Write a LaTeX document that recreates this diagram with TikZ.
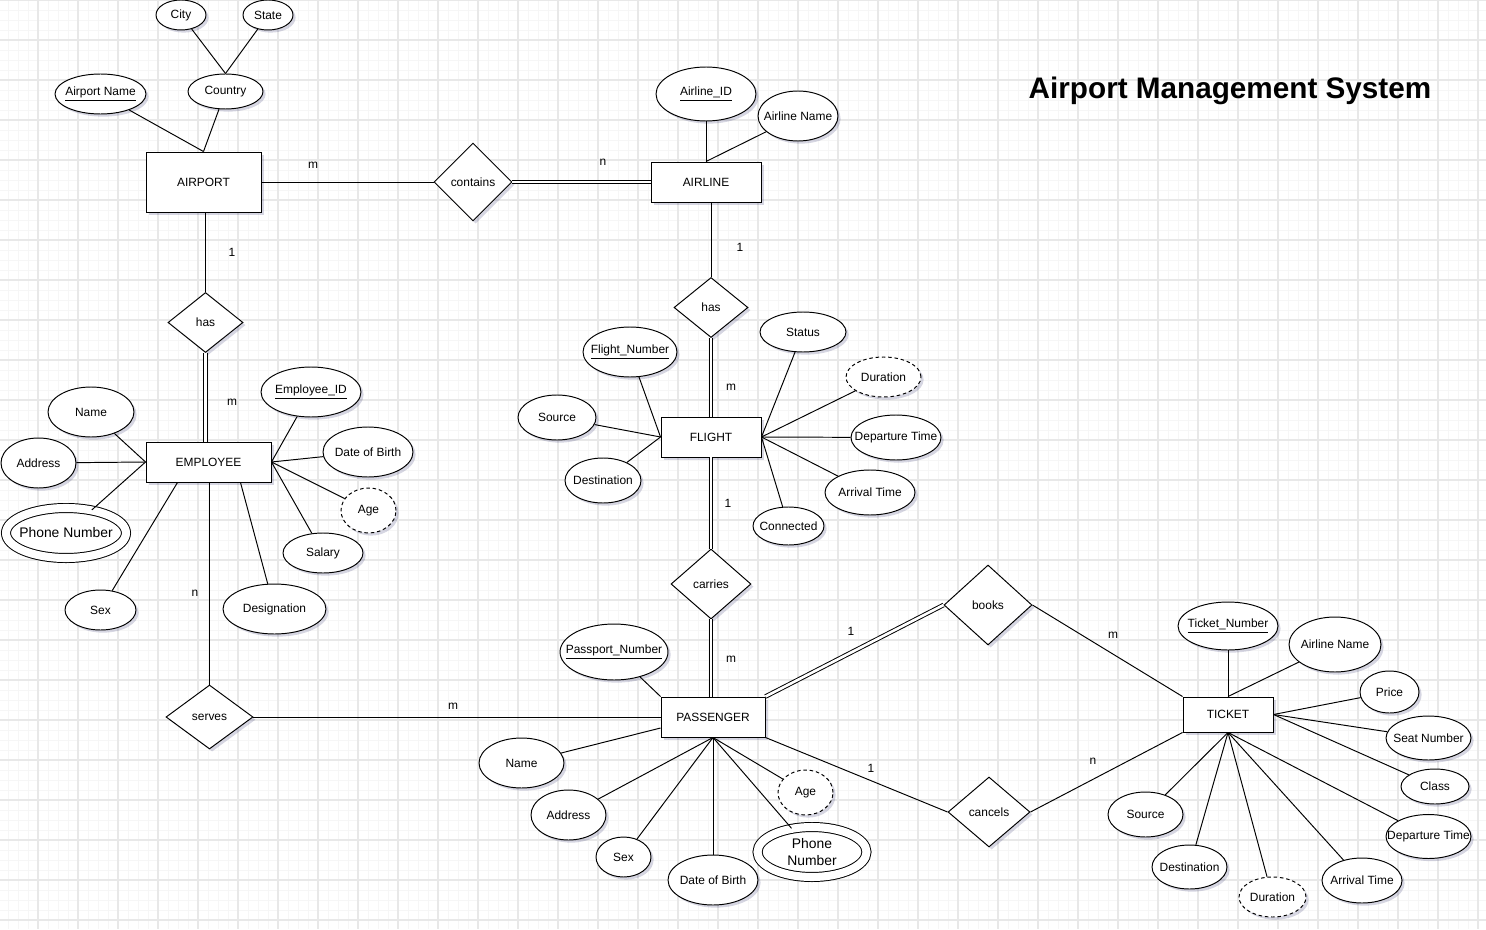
\documentclass[tikz,border=0pt]{standalone}
\usepackage{fontspec}
\setmainfont{Liberation Sans}
\usetikzlibrary{shapes.geometric, shadows}

\tikzset{
    er font/.style={font=\fontsize{6.8}{8.2}\selectfont},
    soft shadow/.style={drop shadow={shadow xshift=1.5pt, shadow yshift=-1.5pt, opacity=0.16, fill=black!70!blue}},
    entity/.style={er font, draw, fill=white, rectangle, inner sep=0pt, soft shadow},
    relation/.style={er font, draw, fill=white, diamond, inner sep=0pt, soft shadow},
    attr/.style={er font, draw, fill=white, ellipse, inner xsep=-30pt, inner ysep=0pt, soft shadow},
    derived/.style={attr, dash pattern=on 2pt off 1.6pt},
    multi/.style={attr, double, double distance=4.6pt, font=\fontsize{7.9}{9.2}\selectfont, align=center},
    total/.style={double, double distance=1.5pt},
    card/.style={er font, inner sep=0pt},
    minor grid/.style={draw=black!3.5, line width=0.5pt},
    major grid/.style={draw=black!9, line width=0.6pt},
}

\begin{document}
\begin{tikzpicture}[x=0.02cm, y=-0.02cm, line width=0.55pt]
    \useasboundingbox (0, 0) rectangle (1486, 929);
    \fill[white] (0, 0) rectangle (1486, 929);

    % background grid
    \foreach \gx in {8,18,...,1478} \draw[minor grid] (\gx, 0) -- (\gx, 929);
    \foreach \gy in {0,10,...,920} \draw[minor grid] (0, \gy) -- (1486, \gy);
    \foreach \gx in {38,78,...,1478} \draw[major grid] (\gx, 0) -- (\gx, 929);
    \foreach \gy in {0,40,...,920} \draw[major grid] (0, \gy) -- (1486, \gy);

    \node[font=\bfseries\fontsize{16.9}{20}\selectfont] (title) at (1230, 91){Airport Management System};

    % entities
    \node[entity, minimum width=2.3cm, minimum height=1.2cm] (airport) at (203.5, 182){AIRPORT};
    \node[entity, minimum width=2.2cm, minimum height=0.8cm] (airline) at (706, 182){AIRLINE};
    \node[entity, minimum width=2.5cm, minimum height=0.8cm] (emp) at (208.5, 462){EMPLOYEE};
    \node[entity, minimum width=2cm, minimum height=0.8cm] (flight) at (711, 437){FLIGHT};
    \node[entity, minimum width=2.08cm, minimum height=0.8cm] (pass) at (713, 717){PASSENGER};
    \node[entity, minimum width=1.8cm, minimum height=0.7cm] (ticket) at (1228, 714.5){TICKET};

    % relations
    \node[relation, minimum width=1.56cm, minimum height=1.56cm] (contains) at (473, 182){contains};
    \node[relation, minimum width=1.5cm, minimum height=1.2cm] (hasA) at (205.5, 322.5){has};
    \node[relation, minimum width=1.48cm, minimum height=1.2cm] (hasB) at (711, 307.5){has};
    \node[relation, minimum width=1.6cm, minimum height=1.4cm] (carries) at (711, 584){carries};
    \node[relation, minimum width=1.74cm, minimum height=1.28cm] (serves) at (209.5, 717){serves};
    \node[relation, minimum width=1.76cm, minimum height=1.6cm] (books) at (988, 605){books};
    \node[relation, minimum width=1.64cm, minimum height=1.4cm] (cancels) at (989, 812){cancels};

    % airport and airline attributes
    \node[attr, minimum width=1cm, minimum height=0.6cm] (city) at (181, 15){City};
    \node[attr, minimum width=1cm, minimum height=0.6cm] (state) at (268, 15){State};
    \node[attr, minimum width=1.5cm, minimum height=0.7cm] (country) at (225.5, 91.5){Country};
    \node[attr, minimum width=1.82cm, minimum height=0.8cm] (apname) at (100.5, 94){\underline{Airport Name}};
    \node[attr, minimum width=2cm, minimum height=1.08cm] (alid) at (706, 94){\underline{Airline\_ID}};
    \node[attr, minimum width=1.6cm, minimum height=1cm] (alname) at (798, 116){Airline Name};

    % employee attributes
    \node[attr, minimum width=2cm, minimum height=1cm] (empid) at (311, 392){\underline{Employee\_ID}};
    \node[attr, minimum width=1.72cm, minimum height=1cm] (ename) at (91, 412){Name};
    \node[attr, minimum width=1.5cm, minimum height=1cm] (eaddr) at (38.5, 463){Address};
    \node[multi, minimum width=2.4cm, minimum height=1cm] (ephone) at (66, 533){Phone Number};
    \node[attr, minimum width=1.42cm, minimum height=0.8cm] (esex) at (100.5, 610){Sex};
    \node[attr, minimum width=2.06cm, minimum height=1cm] (edesig) at (274.5, 609){Designation};
    \node[attr, minimum width=1.8cm, minimum height=1cm] (edob) at (368, 452){Date of Birth};
    \node[derived, minimum width=1.1cm, minimum height=0.9cm] (eage) at (368.5, 510.5){Age};
    \node[attr, minimum width=1.6cm, minimum height=0.8cm] (esal) at (323, 553){Salary};

    % flight attributes
    \node[attr, minimum width=1.88cm, minimum height=1cm] (fnum) at (630, 352){\underline{Flight\_Number}};
    \node[attr, minimum width=1.56cm, minimum height=0.9cm] (fsrc) at (557, 417.5){Source};
    \node[attr, minimum width=1.52cm, minimum height=0.9cm] (fdest) at (603, 480.5){Destination};
    \node[attr, minimum width=1.72cm, minimum height=0.8cm] (fstat) at (803, 332){Status};
    \node[derived, minimum width=1.5cm, minimum height=0.8cm] (fdur) at (883.5, 377){Duration};
    \node[attr, minimum width=1.8cm, minimum height=0.9cm] (fdep) at (896, 437.5){Departure Time};
    \node[attr, minimum width=1.8cm, minimum height=0.9cm] (farr) at (870, 492.5){Arrival Time};
    \node[attr, minimum width=1.42cm, minimum height=0.76cm] (fconn) at (788.5, 526){Connected};

    % passenger attributes
    \node[attr, minimum width=2.16cm, minimum height=1.12cm] (pnum) at (614, 652){\underline{Passport\_Number}};
    \node[attr, minimum width=1.7cm, minimum height=1cm] (pname) at (521.5, 763){Name};
    \node[attr, minimum width=1.5cm, minimum height=1cm] (paddr) at (568.5, 815){Address};
    \node[attr, minimum width=1.1cm, minimum height=0.8cm] (psex) at (623.5, 857){Sex};
    \node[attr, minimum width=1.8cm, minimum height=1cm] (pdob) at (713, 880){Date of Birth};
    \node[derived, minimum width=1.1cm, minimum height=0.9cm] (page) at (805.5, 792.5){Age};
    \node[multi, minimum width=2.18cm, minimum height=1cm] (pphone) at (812, 852){Phone\\Number};

    % ticket attributes
    \node[attr, minimum width=2cm, minimum height=0.96cm] (tnum) at (1228, 626){\underline{Ticket\_Number}};
    \node[attr, minimum width=1.84cm, minimum height=1.1cm] (talname) at (1335, 644.5){Airline Name};
    \node[attr, minimum width=1.18cm, minimum height=0.84cm] (tprice) at (1389.5, 692){Price};
    \node[attr, minimum width=1.7cm, minimum height=0.88cm] (tseat) at (1428.5, 738){Seat Number};
    \node[attr, minimum width=1.36cm, minimum height=0.7cm] (tclass) at (1435, 786.5){Class};
    \node[attr, minimum width=1.7cm, minimum height=0.88cm] (tdep) at (1428.5, 836.5){Departure Time};
    \node[attr, minimum width=1.6cm, minimum height=0.9cm] (tarr) at (1362, 880.5){Arrival Time};
    \node[derived, minimum width=1.34cm, minimum height=0.8cm] (tdur) at (1272.5, 897){Duration};
    \node[attr, minimum width=1.5cm, minimum height=0.88cm] (tdest) at (1189.5, 867){Destination};
    \node[attr, minimum width=1.5cm, minimum height=0.9cm] (tsrc) at (1145.5, 814.5){Source};

    % relationship lines
    \draw (airport.east) -- (contains.west);
    \draw[total] (contains.east) -- (airline.west);
    \draw (hasA.north |- airport.south) -- (hasA.north);
    \draw[total] (hasA.south) -- (hasA.south |- emp.north);
    \draw (hasB.north |- airline.south) -- (hasB.north);
    \draw[total] (hasB.south) -- (flight.north);
    \draw[total] (flight.south) -- (carries.north);
    \draw[total] (carries.south) -- (carries.south |- pass.north);
    \draw (serves.north |- emp.south) -- (serves.north);
    \draw (serves.east) -- (pass.west);
    \draw[total] (pass.north east) -- (books.west);
    \draw (books.east) -- (ticket.north west);
    \draw (pass.south east) -- (cancels.west);
    \draw (cancels.east) -- (ticket.south west);

    % attribute lines
    \draw (city) -- (country.north);
    \draw (state) -- (country.north);
    \draw (country) -- (airport.north);
    \draw (apname) -- (airport.north);
    \draw (alid) -- (airline.north);
    \draw (alname) -- (airline.north);

    \foreach \a in {ename, eaddr, ephone} \draw (emp.west) -- (\a);
    \foreach \a in {empid, edob, eage, esal} \draw (emp.east) -- (\a);
    \draw ([xshift=-0.62cm]emp.south) -- (esex);
    \draw ([xshift=0.64cm]emp.south) -- (edesig);

    \foreach \a in {fnum, fsrc, fdest} \draw (flight.west) -- (\a);
    \foreach \a in {fstat, fdur, fdep, farr, fconn} \draw (flight.east) -- (\a);

    \draw (pass.north west) -- (pnum);
    \draw ([yshift=-0.22cm]pass.west) -- (pname);
    \foreach \a in {paddr, psex, pdob, pphone, page} \draw (pass.south) -- (\a);

    \foreach \a in {tnum, talname} \draw (ticket.north) -- (\a);
    \foreach \a in {tprice, tseat, tclass} \draw (ticket.east) -- (\a);
    \foreach \a in {tdep, tarr, tdur, tdest, tsrc} \draw (ticket.south) -- (\a);

    % cardinalities
    \node[card] (cardA) at (313, 165){m};
    \node[card] (cardB) at (603, 162){n};
    \node[card] (cardC) at (232, 252){1};
    \node[card] (cardD) at (232, 402){m};
    \node[card] (cardE) at (195, 593){n};
    \node[card] (cardF) at (453, 706){m};
    \node[card] (cardG) at (740, 247){1};
    \node[card] (cardH) at (731, 387){m};
    \node[card] (cardI) at (728, 503){1};
    \node[card] (cardJ) at (731, 659){m};
    \node[card] (cardK) at (851, 631){1};
    \node[card] (cardL) at (1113, 635){m};
    \node[card] (cardM) at (871, 768){1};
    \node[card] (cardN) at (1093, 761){n};
\end{tikzpicture}
\end{document}
